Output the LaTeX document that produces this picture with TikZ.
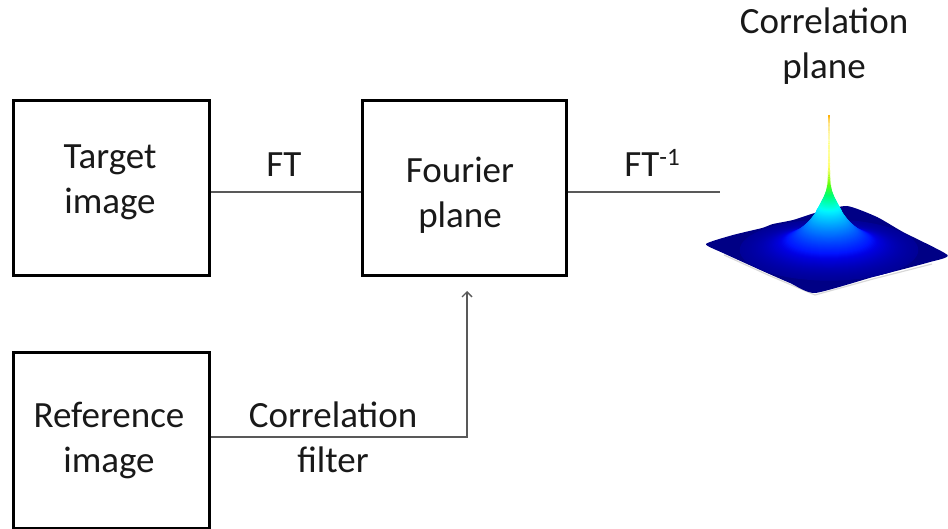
\documentclass[tikz,border=0pt]{standalone}
\usepackage{fontspec}
\setmainfont{Carlito}
\usetikzlibrary{arrows.meta}
\tikzset{
  box/.style={draw=black,line width=3pt,minimum width=196pt,minimum height=175pt,inner sep=0pt},
  lbl/.style={align=center,inner sep=0pt,font=\fontsize{37}{45}\selectfont,text=black!90},
  conn/.style={draw=black!65,line width=1.4pt},
}
\newcommand{\peakring}[2]{%
  \pgfmathsetmacro{\hh}{70*exp(-#1/0.5)+67*exp(-#1/24)}%
  \pgfmathsetmacro{\tv}{\hh/137}%
  \pgfmathsetmacro{\cr}{\tv<0.42 ? 0 : (\tv<0.62 ? (\tv-0.42)/0.2 : 1)}%
  \pgfmathsetmacro{\cg}{\tv<0.07 ? 0 : (\tv<0.33 ? (\tv-0.07)/0.26 : (\tv<0.8 ? 1 : 1-(\tv-0.8)*1.6))}%
  \pgfmathsetmacro{\cb}{\tv<0.09 ? 0.52+\tv*5.3 : (\tv<0.32 ? 1 : (\tv<0.5 ? 1-(\tv-0.32)/0.18 : 0))}%
  \definecolor{cc}{rgb}{\cr,\cg,\cb}%
  \fill[cc] (829,252-\hh) ellipse [x radius=#1*1.05+#2,y radius=#1*0.36+0.2*#2];%
}
\begin{document}
\begin{tikzpicture}[x=1pt,y=-1pt]
\useasboundingbox (0,0) rectangle (948,529);
\node[box,label={[lbl,xshift=-1pt,yshift=6pt]center:Target\\image}] (target) at (111,188.5) {};
\node[box,minimum width=204pt,label={[lbl,xshift=-4pt,yshift=-7pt]center:Fourier\\plane}] (fourier) at (464,188.5) {};
\node[box,label={[lbl,xshift=-2pt,yshift=0pt]center:Reference\\image}] (reference) at (111,440.5) {};
\coordinate (tip) at (467,291);
\coordinate (free) at (720,192);
\coordinate (bend) at (467,437);
\draw[conn] (target.east |- 0,192) -- (fourier.west |- 0,192);
\draw[conn] (fourier.east |- 0,192) -- (free);
\draw[conn,-{Straight Barb[length=5pt,width=10pt]}] (reference.east |- bend) -- (bend) -- (tip);
\node[lbl,anchor=base] (ft) at (284,177) {FT};
\node[lbl,anchor=base] (fti) at (652,177) {FT\raisebox{0.3em}{\fontsize{25}{25}\selectfont -1}};
\node[lbl] (cf) at (333,437) {Correlation\\filter};
\node[lbl] (cp) at (824,46) {Correlation\\plane};
% surface
\def\surf{plot[smooth cycle,tension=0.35] coordinates {(706,244) (733,235) (762,228) (773,224) (793,220) (818,212) (847,206) (877,217) (903,232) (947.5,255) (930,262) (900,270) (873,277) (815,293) (790,283) (767,273) (723,253)}}
\draw[black!15,line width=1.2pt] (724,255) -- (768,275) -- (815,295) -- (873,279) -- (932,264);
\definecolor{deep}{rgb}{0,0,0.52}
\fill[deep] \surf;
\begin{scope}
\clip \surf;
\foreach \i in {0,...,70}{
  \pgfmathsetmacro{\rr}{85*exp(-\i*0.0275)}
  \peakring{\rr}{0}
}
\end{scope}
\foreach \i in {0,...,280}{
  \pgfmathsetmacro{\rr}{12*exp(-\i*0.03)}
  \peakring{\rr}{0.5}
}
\end{tikzpicture}
\end{document}
